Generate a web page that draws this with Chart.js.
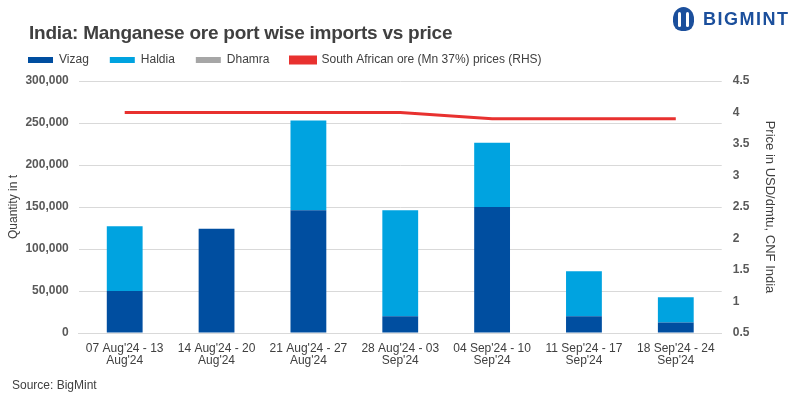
<!DOCTYPE html>
<html>
<head>
<meta charset="utf-8">
<script src="https://cdn.jsdelivr.net/npm/chart.js@4.4.1/dist/chart.umd.min.js"></script>
<style>
  html, body { margin: 0; padding: 0; background: #fff; }
  #wrap { position: relative; width: 800px; height: 399px; }
  #title { position: absolute; left: 29px; top: 22px; font: bold 19px 'Liberation Sans', Arial, sans-serif; letter-spacing: -0.25px; color: #404040; white-space: nowrap; }
  #logo { position: absolute; left: 673px; top: 6px; height: 26px; display: flex; align-items: center; }
  #logo .ic { width: 21px; height: 24px; border-radius: 50% 50% 40% 40%; background: #1b4f9c; position: relative; }
  #logo .ic:before { content: ''; position: absolute; left: 5px; top: 5px; width: 3px; height: 15px; background: #fff; border-radius: 2px; }
  #logo .ic:after { content: ''; position: absolute; left: 13px; top: 5px; width: 3px; height: 15px; background: #fff; border-radius: 2px; }
  #logo .tx { margin-left: 9px; font: bold 18px 'Liberation Sans', Arial, sans-serif; color: #1b4f9c; letter-spacing: 1.5px; }
  #source { position: absolute; left: 12px; top: 378px; font: 12px 'Liberation Sans', Arial, sans-serif; color: #404040; }
  canvas { position: absolute; left: 0; top: 0; }
</style>
</head>
<body>
<div id="wrap">
  <canvas id="chart" width="800" height="399"></canvas>
  <div id="title">India: Manganese ore port wise imports vs price</div>
  <div id="logo"><div class="ic"></div><div class="tx">BIGMINT</div></div>
  <div id="source">Source: BigMint</div>
</div>
<script>
// datos
var weeks = [
  ["07 Aug'24 - 13", "Aug'24"],
  ["14 Aug'24 - 20", "Aug'24"],
  ["21 Aug'24 - 27", "Aug'24"],
  ["28 Aug'24 - 03", "Sep'24"],
  ["04 Sep'24 - 10", "Sep'24"],
  ["11 Sep'24 - 17", "Sep'24"],
  ["18 Sep'24 - 24", "Sep'24"]
];
var vizag  = [50000, 124000, 146000, 20000, 150000, 20000, 12500];
var haldia = [77000, 0, 107000, 126000, 76500, 53500, 30000];
var dhamra = [0, 0, 0, 0, 0, 0, 0];
var saPrice = [4.0, 4.0, 4.0, 4.0, 3.9, 3.9, 3.9];

var fontFam = "'Liberation Sans', Arial, sans-serif";
var textColor = '#404040';

// ajuste de la leyenda: menos alto y corrida a la derecha
var legendFix = {
  id: 'legendFix',
  afterInit: function (chart) {
    var lg = chart.legend;
    var fit = lg.fit;
    lg.fit = function () { fit.call(this); this.height = 48; };
    var draw = lg.draw;
    lg.draw = function () {
      var ctx = this.ctx;
      ctx.save();
      ctx.translate(6, 0);
      draw.call(this);
      ctx.restore();
    };
  }
};

var chart = new Chart(document.getElementById('chart'), {
  type: 'bar',
  data: {
    labels: weeks,
    datasets: [{
      label: 'Vizag',
      data: vizag,
      backgroundColor: '#004ea0',
      stack: 's',
      yAxisID: 'y'
    }, {
      label: 'Haldia',
      data: haldia,
      backgroundColor: '#00a3e0',
      stack: 's',
      yAxisID: 'y'
    }, {
      label: 'Dhamra',
      data: dhamra,
      backgroundColor: '#a6a6a6',
      stack: 's',
      yAxisID: 'y'
    }, {
      type: 'line',
      label: 'South African ore (Mn 37%) prices (RHS)',
      data: saPrice,
      borderColor: '#e8312f',
      backgroundColor: '#e8312f',
      borderWidth: 3,
      pointRadius: 0,
      tension: 0,
      yAxisID: 'y1'
    }]
  },
  plugins: [legendFix],
  options: {
    responsive: false,
    animation: false,
    layout: { padding: { top: 33, left: 1, right: 22, bottom: 30 } },
    datasets: { bar: { barPercentage: 0.39, categoryPercentage: 1 } },
    plugins: {
      tooltip: { enabled: false },
      title: { display: false },
      legend: {
        display: true,
        position: 'top',
        align: 'start',
        labels: {
          boxWidth: 25,
          boxHeight: 6,
          padding: 21,
          color: textColor,
          font: { family: fontFam, size: 12 }
        }
      }
    },
    scales: {
      x: {
        stacked: true,
        grid: { display: false },
        border: { color: '#d9d9d9' },
        ticks: {
          color: textColor,
          padding: 2,
          font: { family: fontFam, size: 12, lineHeight: 1.0 },
          maxRotation: 0,
          autoSkip: false
        }
      },
      y: {
        stacked: true,
        position: 'left',
        min: 0,
        max: 300000,
        ticks: {
          stepSize: 50000,
          padding: 10,
          color: '#595959',
          font: { family: fontFam, size: 12, weight: 'bold' },
          callback: function (v) { return v.toLocaleString('en-US'); }
        },
        grid: { color: '#d9d9d9', drawTicks: false },
        border: { display: false },
        title: {
          display: true, text: 'Quantity in t', color: textColor,
          padding: { top: 5, bottom: -5 },
          font: { family: fontFam, size: 12 }
        }
      },
      y1: {
        position: 'right',
        min: 0.5,
        max: 4.5,
        ticks: {
          stepSize: 0.5,
          padding: 11,
          color: '#595959',
          font: { family: fontFam, size: 12, weight: 'bold' },
          callback: function (v) { return String(Math.round(v * 10) / 10); }
        },
        grid: { display: false, drawTicks: false },
        border: { display: false },
        title: {
          display: true, text: 'Price in USD/dmtu, CNF India', color: textColor,
          padding: { top: 1, bottom: 1 },
          font: { family: fontFam, size: 13 }
        }
      }
    }
  }
});
</script>
</body>
</html>
